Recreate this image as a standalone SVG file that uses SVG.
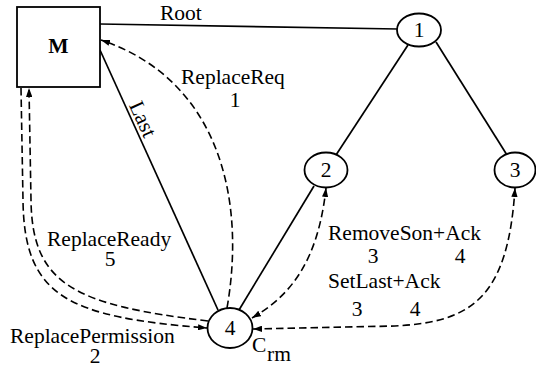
<svg xmlns="http://www.w3.org/2000/svg" width="536" height="369" viewBox="0 0 536 369">
  <style>
    text { font-family: "Liberation Serif", "Times New Roman", serif; font-size: 21.5px; fill: #000; }
    .mid { text-anchor: middle; }
    .node { fill: #fff; stroke: #000; stroke-width: 1.8; }
    .solid { fill: none; stroke: #000; stroke-width: 1.7; }
    .dash { fill: none; stroke: #000; stroke-width: 1.6; stroke-dasharray: 7.5 4; }
  </style>
  <defs>
    <marker id="arrow" viewBox="0 0 10 7" refX="10" refY="3.5" markerWidth="9" markerHeight="6.3" markerUnits="userSpaceOnUse" orient="auto">
      <path d="M0,0 L10,3.5 L0,7 z" fill="#000"/>
    </marker>
    <marker id="arrowStart" viewBox="0 0 10 7" refX="0" refY="3.5" markerWidth="9" markerHeight="6.3" markerUnits="userSpaceOnUse" orient="auto">
      <path d="M10,0 L0,3.5 L10,7 z" fill="#000"/>
    </marker>
  </defs>

  <!-- tree edges and message paths -->
  <g id="connectors">
    <line class="solid" x1="100" y1="24" x2="398" y2="29"/>
    <line class="solid" x1="408" y1="45" x2="336" y2="155"/>
    <line class="solid" x1="436" y1="42" x2="507" y2="155"/>
    <line class="solid" x1="314" y1="186" x2="239" y2="310"/>
    <line class="solid" x1="100" y1="50" x2="218" y2="310"/>

    <!-- ReplaceReq: 4 -> M -->
    <path class="dash" d="M227,308 C246,200 220,80 101,40" marker-end="url(#arrow)"/>
    <!-- ReplacePermission: M -> 4 -->
    <path class="dash" d="M21,88 L23,200 C24,297 68,317 207,328" marker-end="url(#arrow)"/>
    <!-- ReplaceReady: 4 -> M -->
    <path class="dash" d="M208,321 C75,305 32,285 31,200 L29,88" marker-end="url(#arrow)"/>
    <!-- RemoveSon+Ack: 4 <-> 2 -->
    <path class="dash" d="M252,318 C290,296 318,262 326,188" marker-start="url(#arrowStart)" marker-end="url(#arrow)"/>
    <!-- SetLast+Ack: 4 <-> 3 -->
    <path class="dash" d="M253,329 L395,326 C470,322 508,300 515,188" marker-start="url(#arrowStart)" marker-end="url(#arrow)"/>
  </g>

  <g id="node-M">
    <rect class="node" x="17" y="7" width="83" height="80"/>
    <text class="mid" x="58.5" y="53" font-weight="bold">M</text>
  </g>
  <g id="node-1">
    <ellipse class="node" cx="419" cy="30" rx="22" ry="16.5"/>
    <text class="mid" x="419" y="37">1</text>
  </g>
  <g id="node-2">
    <ellipse class="node" cx="326" cy="170" rx="21.5" ry="17.5"/>
    <text class="mid" x="326" y="177">2</text>
  </g>
  <g id="node-3">
    <ellipse class="node" cx="515" cy="170" rx="20.5" ry="17.5"/>
    <text class="mid" x="515" y="177">3</text>
  </g>
  <g id="node-4">
    <ellipse class="node" cx="230" cy="328" rx="22.5" ry="20"/>
    <text class="mid" x="230" y="335">4</text>
  </g>

  <g id="labels">
    <text x="160" y="20">Root</text>
    <text class="mid" x="136.5" y="122" transform="rotate(65.6 136.5 122)">Last</text>
    <text x="181" y="84">ReplaceReq</text>
    <text class="mid" x="235" y="107">1</text>
    <text x="47" y="246">ReplaceReady</text>
    <text class="mid" x="110" y="266">5</text>
    <text x="10" y="343">ReplacePermission</text>
    <text class="mid" x="95" y="363">2</text>
    <text x="328" y="240">RemoveSon+Ack</text>
    <text class="mid" x="373" y="263">3</text>
    <text class="mid" x="460" y="263">4</text>
    <text x="328" y="288">SetLast+Ack</text>
    <text class="mid" x="357" y="316">3</text>
    <text class="mid" x="415" y="316">4</text>
    <text x="252" y="352">C</text>
    <text x="267" y="361">rm</text>
  </g>
</svg>
